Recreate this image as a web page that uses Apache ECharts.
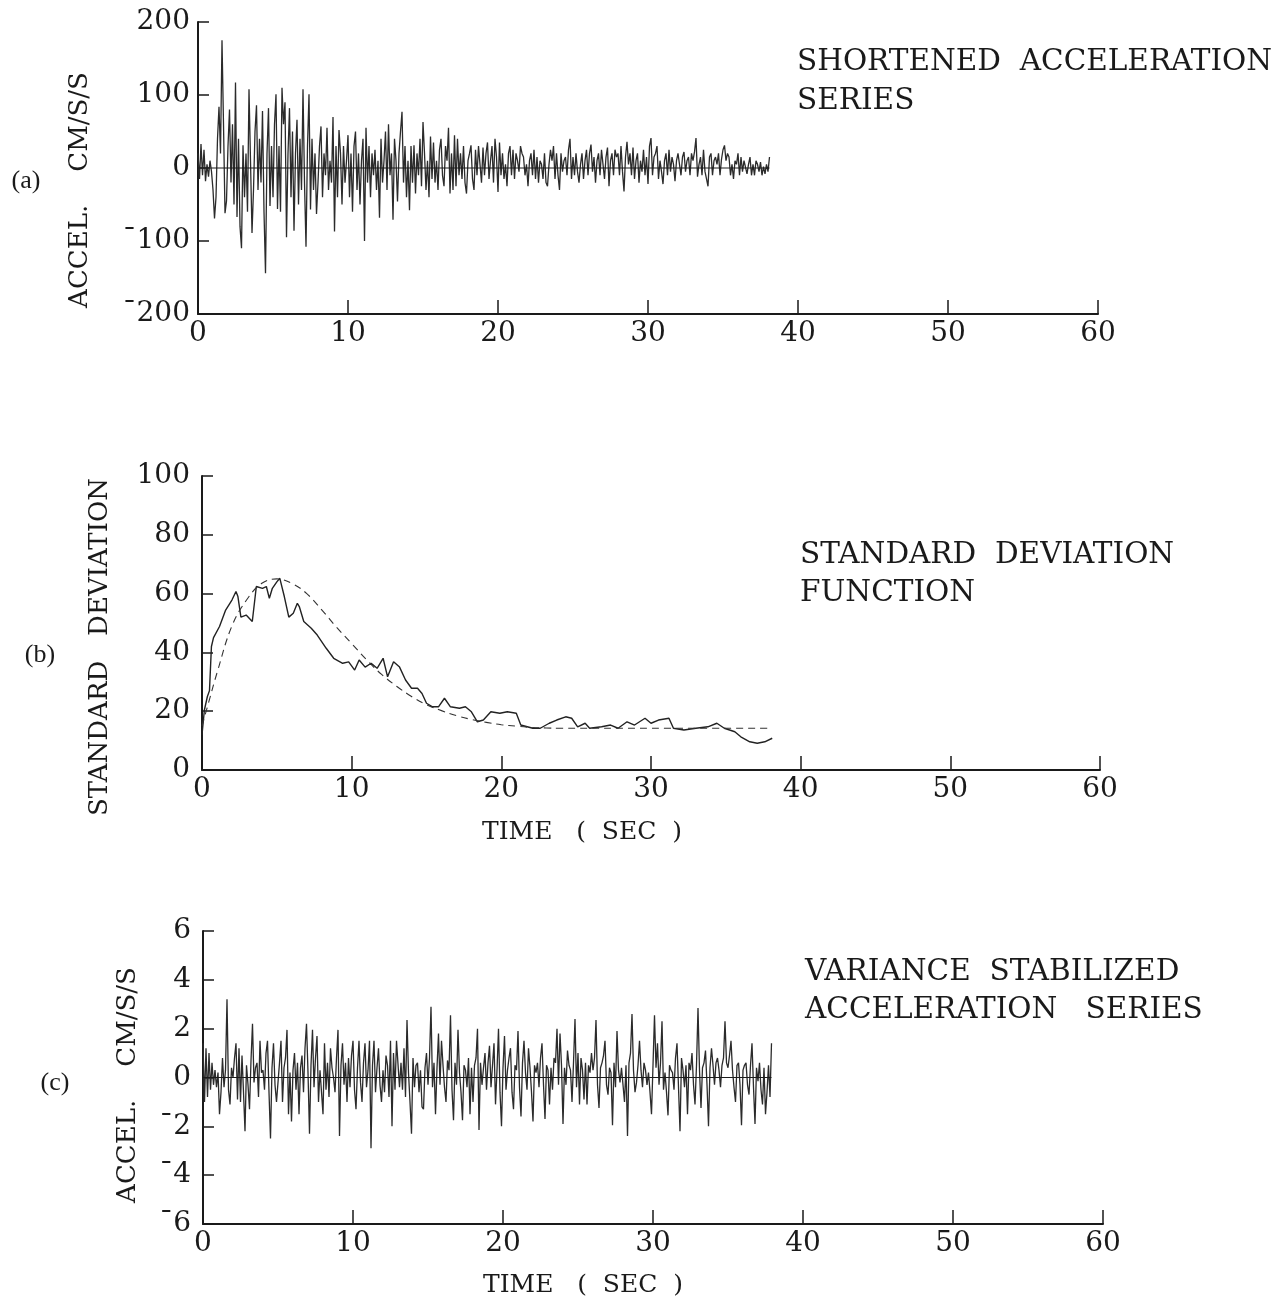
<!DOCTYPE html>
<html>
<head>
<meta charset="utf-8">
<script src="https://cdn.jsdelivr.net/npm/echarts@6/dist/echarts.min.js"></script>
<style>
html,body{margin:0;padding:0;background:#fff;}
#chart{width:1288px;height:1303px;}
</style>
</head>
<body>
<div id="chart"></div>
<script>
// ---------- DATA ----------
// (a) shortened acceleration series, cm/s/s, sampled every 0.1 s from t = 0
const accelStep = 0.1;
const accelValues = [
 20,-15,33,-10,25,-18,5,-12,10,-5,
 -30,-69,-40,40,84,20,175,60,-62,-45,
 30,80,-20,60,-50,117,-67,40,-80,-110,
 31,-40,20,-60,108,10,-89,-30,50,86,
 -30,40,-20,78,-60,-144,20,82,-52,30,
 -40,60,101,-56,30,-60,110,60,90,-95,
 20,82,-40,50,-86,20,66,-50,40,-30,
 108,-20,-108,30,101,-57,40,-30,20,-63,
 -20,30,57,-40,20,-10,55,-30,10,-20,
 70,-87,30,-40,52,20,-50,30,-20,10,
 45,-40,20,-60,30,50,-30,20,-50,10,
 40,-100,55,-20,30,-40,20,-10,25,-30,
 10,-68,40,-20,10,50,-30,60,-10,20,
 -71,40,10,-46,20,50,77,-20,30,-40,
 10,-58,30,-20,31,-35,20,-10,40,-25,
 63,20,-30,10,-40,43,-15,35,-20,10,
 -30,25,40,-10,-25,30,10,55,-35,20,
 -30,45,-25,40,-10,20,-15,30,-20,-35,
 10,20,31,-15,-30,25,-10,30,5,-20,
 28,-10,20,35,-15,10,30,-20,40,15,
 -33,35,-10,20,-15,5,-25,20,30,-10,
 25,-15,20,10,-5,30,20,15,-10,5,
 -25,10,20,-10,25,-15,15,-20,10,5,
 -15,20,-20,-25,5,25,10,30,-15,20,
 -10,-30,20,-5,10,15,-10,25,40,-15,
 15,-10,20,-5,-20,5,20,-15,10,25,
 -10,20,32,-5,15,-20,10,20,-10,25,
 5,-15,15,28,-25,10,20,-10,25,15,
 20,-10,30,-5,-32,15,36,5,20,-10,
 28,-15,10,20,-20,10,-5,25,-10,15,
 -22,30,41,-10,15,20,30,-15,10,-5,
 -22,10,20,-10,25,-5,15,5,-18,10,
 20,5,-10,15,22,-5,10,15,-10,20,
 10,22,41,-12,5,15,-10,25,-5,-15,
 -25,15,20,-10,10,15,5,20,-10,12,
 25,31,10,20,15,-10,5,-15,10,5,
 20,-10,15,-5,10,12,-8,5,15,-10,
 5,-10,10,5,-5,8,-10,2,-8,5,
 -5,15
];

// (b) standard deviation function: estimated (solid) and fitted model (dashed)
const sdTimes = [0,0.16,0.36,0.5,0.63,0.77,1.17,1.58,2.0,2.27,2.4,2.6,2.95,3.36,3.63,4.04,4.3,4.5,4.7,5.0,5.2,5.5,5.8,6.1,6.37,6.5,6.8,7.3,7.7,8.3,8.8,9.4,9.8,10.2,10.5,10.9,11.3,11.7,12.1,12.4,12.8,13.2,13.6,14.0,14.4,14.7,15.0,15.4,15.8,16.2,16.6,17.2,17.6,18.0,18.4,18.8,19.3,19.9,20.4,21.0,21.3,22.1,22.6,23.2,23.7,24.3,24.7,25.1,25.6,25.9,26.7,27.3,27.8,28.4,28.9,29.6,30.0,30.5,31.2,31.5,32.2,33.0,33.8,34.4,34.9,35.6,36.0,36.6,37.1,37.6,38.1];
const sdValues = [12,20.4,25,27,42,45,48.8,54.4,57.8,60.7,59,52,52.7,50.5,62.4,61.8,62.4,58.4,61.8,64,65.2,59,52,53.3,56.7,55.6,50.5,48.2,45.9,41.4,38,36.3,36.8,34,37.4,35,36.3,34.6,38,31.7,36.8,35,30.6,27.8,27.8,26,22.7,21.5,21.5,24.4,21.5,21,21.5,19.8,16.4,17,19.8,19.3,19.8,19.3,15.3,14.2,14.2,15.9,17,18.1,17.6,14.7,15.9,14.2,14.7,15.3,14.2,16.4,15.3,17.6,15.9,17,17.6,14.2,13.6,14.2,14.7,15.9,14.2,13,11.3,9.6,9.1,9.6,10.8];
const modelTimes = [0,0.5,1,2,3,4,5,6,7,8,9,10,11,12,13,14,15,16,17,18,19,20,21,22,23,24,30,38.1];
const modelValues = [15,24,33,49,58,63.5,65,63.5,60,54.5,48.5,43,37.5,32.5,28.5,25,22.2,20.2,18.5,17.2,16.2,15.4,14.9,14.5,14.3,14.2,14.2,14.2];

// (c) variance stabilized acceleration series, sampled every 0.1 s from t = 0
const stabStep = 0.1;
const stabValues = [
 1.4,-1.0,1.2,-0.8,1.0,-0.5,0.6,-0.3,0.3,-0.4,
 0.2,-1.5,-0.6,0.8,-0.4,0.3,3.2,-0.5,-1.1,0.4,
 0.0,0.8,1.4,-0.9,1.2,-1.0,0.9,-0.6,-2.2,0.5,
 -0.3,-1.3,0.7,2.2,-0.2,0.4,0.6,-0.8,1.5,0.2,
 0.3,-0.5,1.0,1.5,-0.6,-2.5,0.4,1.4,-0.3,-1.0,
 -1.0,0.6,1.5,-1.0,0.4,0.8,1.95,-1.5,0.2,-1.8,
 0.3,1.0,-0.5,0.6,-1.5,0.4,0.9,-0.6,1.2,2.2,
 0.2,-2.3,0.5,1.95,-0.4,0.8,1.7,-1.0,0.3,-0.6,
 -1.5,1.4,-0.5,0.6,-0.8,1.2,0.4,0.0,-0.6,0.8,
 1.95,-2.4,0.5,1.4,-0.3,0.6,-1.0,0.8,-0.4,0.9,
 1.5,-0.5,-1.3,0.4,1.5,-0.2,-1.0,0.6,1.4,-0.4,
 0.3,1.5,-2.9,0.5,1.5,-0.6,0.4,1.2,-0.3,-1.0,
 0.3,-0.6,0.9,0.5,-0.8,1.5,-2.0,1.0,-0.5,1.5,
 1.5,-0.4,0.6,-0.5,1.2,-0.8,2.35,0.2,-1.0,-2.3,
 0.8,-0.4,0.5,0.6,-0.6,0.3,-1.2,-1.3,0.4,1.0,
 -0.3,0.8,2.9,-0.4,0.6,-1.5,0.4,1.8,-0.3,1.5,
 0.5,-0.4,-1.0,0.7,0.3,2.55,-0.5,-1.75,0.6,-0.3,
 1.95,0.2,-0.6,-1.75,0.5,0.3,-0.4,0.8,-1.5,0.4,
 -1.0,0.5,0.8,2.0,-2.15,0.6,-0.3,0.4,1.0,-0.5,
 0.6,1.3,-0.4,0.5,1.4,-1.1,0.3,2.0,-0.6,-2.0,
 0.4,1.7,-0.5,0.3,0.8,1.2,-0.6,-1.3,0.5,0.3,
 1.9,-0.4,-1.6,0.6,1.5,0.2,-0.5,1.2,0.4,-0.6,
 -1.8,0.5,0.2,0.6,-0.4,0.8,1.4,-0.3,-1.7,0.5,
 0.3,-1.1,0.4,-0.5,0.8,0.6,2.0,-0.3,1.8,0.5,
 -1.9,0.4,-0.3,1.1,0.5,0.3,-1.0,0.6,2.4,-0.4,
 1.0,-1.1,0.8,0.3,-0.9,0.6,-1.1,0.5,0.2,1.0,
 0.3,0.8,2.35,-0.3,-1.25,0.4,0.6,0.9,1.5,-0.3,
 -0.7,0.4,0.2,-1.95,0.6,-0.4,1.9,0.3,-0.2,0.4,
 -0.3,-1.0,0.5,-2.4,0.6,1.0,2.6,0.3,-0.6,-0.2,
 0.5,1.5,0.3,-0.4,0.6,0.3,-0.3,0.2,-0.6,-1.5,
 0.5,2.55,0.4,1.4,-0.3,0.6,2.3,-0.5,0.2,-0.6,
 -1.55,0.5,0.3,0.2,-0.5,0.8,1.4,-0.4,-2.2,0.8,
 0.3,-0.4,0.5,-1.5,0.6,0.3,1.0,-0.3,-1.1,0.5,
 2.85,0.3,-1.25,0.4,0.6,1.1,-0.3,-2.0,0.4,1.2,
 0.5,-0.3,0.6,0.8,0.3,-0.4,0.5,0.8,2.3,0.6,
 0.4,0.9,1.5,0.3,-0.4,-1.0,0.5,0.6,-0.3,-1.95,
 0.3,0.5,0.6,-0.3,-0.7,0.5,1.4,-0.4,-1.9,0.4,
 -0.15,0.6,-0.5,-1.1,0.4,-1.5,-0.6,0.5,-0.8,1.4
];

const xTicks = [0, 60, 10];          // min, max, interval (seconds)
const yTicksA = [-200, 200, 100];
const yTicksB = [0, 100, 20];
const yTicksC = [-6, 6, 2];

// ---------- BUILD ----------
const toPairs = (vals, step) => vals.map((v, i) => [+(i * step).toFixed(2), v]);
const accelPairs = toPairs(accelValues, accelStep);
const stabPairs = toPairs(stabValues, stabStep);
const sdPairs = sdTimes.map((t, i) => [t, sdValues[i]]);
const modelPairs = modelTimes.map((t, i) => [t, modelValues[i]]);
const baseA = [[accelPairs[0][0], 0], [accelPairs[accelPairs.length - 1][0], 0]];
const baseC = [[stabPairs[0][0], 0], [stabPairs[stabPairs.length - 1][0], 0]];

const INK = '#1a1a1a';
const FONT = 'DejaVu Serif';
const labelFmt = v => String(v).replace('-', '\u00AF');

function xAxisCfg(idx) {
  return {
    type: 'value', gridIndex: idx, min: xTicks[0], max: xTicks[1], interval: xTicks[2],
    axisLine: { onZero: false, lineStyle: { color: INK, width: 2 } },
    axisTick: { inside: true, length: 14, lineStyle: { color: INK, width: 1.5 } },
    axisLabel: { color: INK, fontFamily: FONT, fontSize: 28, margin: 6 },
    splitLine: { show: false }
  };
}
function yAxisCfg(idx, t, margin) {
  return {
    type: 'value', gridIndex: idx, min: t[0], max: t[1], interval: t[2],
    axisLine: { onZero: false, lineStyle: { color: INK, width: 2 } },
    axisTick: { inside: true, length: 11, lineStyle: { color: INK, width: 1.5 } },
    axisLabel: { color: INK, fontFamily: FONT, fontSize: 28, margin: margin, formatter: labelFmt },
    splitLine: { show: false }
  };
}
function txt(text, x, y, size, opts) {
  opts = opts || {};
  return {
    type: 'text', x: x, y: y, rotation: opts.rot || 0, silent: true,
    style: {
      text: text, fill: INK, font: size + 'px "' + (opts.family || FONT) + '"',
      textAlign: opts.align || 'left', textVerticalAlign: 'middle'
    }
  };
}
const R = Math.PI / 2;

const option = {
  backgroundColor: '#fff',
  animation: false,
  grid: [
    { left: 198, top: 22, width: 900, height: 292 },
    { left: 202, top: 476, width: 898, height: 294 },
    { left: 203, top: 931, width: 900, height: 293 }
  ],
  xAxis: [xAxisCfg(0), xAxisCfg(1), xAxisCfg(2)],
  yAxis: [yAxisCfg(0, yTicksA, 8), yAxisCfg(1, yTicksB, 12), yAxisCfg(2, yTicksC, 12)],
  series: [
    { type: 'line', xAxisIndex: 0, yAxisIndex: 0, data: accelPairs, showSymbol: false, symbol: 'none',
      lineStyle: { color: '#2b2b2b', width: 1.3 } },
    { type: 'line', xAxisIndex: 0, yAxisIndex: 0, data: baseA, symbol: 'none',
      lineStyle: { color: INK, width: 1 } },
    { type: 'line', xAxisIndex: 1, yAxisIndex: 1, data: sdPairs, symbol: 'none',
      lineStyle: { color: '#222', width: 1.4 } },
    { type: 'line', xAxisIndex: 1, yAxisIndex: 1, data: modelPairs, symbol: 'none', smooth: 0.4,
      lineStyle: { color: '#333', width: 1.1, type: [7, 5] } },
    { type: 'line', xAxisIndex: 2, yAxisIndex: 2, data: stabPairs, showSymbol: false, symbol: 'none',
      lineStyle: { color: '#2b2b2b', width: 1.3 } },
    { type: 'line', xAxisIndex: 2, yAxisIndex: 2, data: baseC, symbol: 'none',
      lineStyle: { color: INK, width: 1 } }
  ],
  graphic: [
    txt('SHORTENED  ACCELERATION', 797, 62, 29.5),
    txt('SERIES', 797, 101, 29.5),
    txt('STANDARD  DEVIATION', 800, 555, 29.5),
    txt('FUNCTION', 800, 593, 29.5),
    txt('VARIANCE  STABILIZED', 805, 972, 29.5),
    txt('ACCELERATION   SERIES', 805, 1010, 29.5),
    txt('ACCEL.    CM/S/S', 80, 190, 26, { rot: R, align: 'center' }),
    txt('STANDARD   DEVIATION', 100, 647, 26, { rot: R, align: 'center' }),
    txt('ACCEL.    CM/S/S', 128, 1085, 26, { rot: R, align: 'center' }),
    txt('TIME   (  SEC  )', 582, 832, 25, { align: 'center' }),
    txt('TIME   (  SEC  )', 583, 1285, 25, { align: 'center' }),
    txt('(a)', 26, 181, 26, { align: 'center', family: 'Liberation Serif' }),
    txt('(b)', 40, 655, 26, { align: 'center', family: 'Liberation Serif' }),
    txt('(c)', 55, 1083, 26, { align: 'center', family: 'Liberation Serif' })
  ]
};

const chart = echarts.init(document.getElementById('chart'));
chart.setOption(option);
</script>
</body>
</html>
